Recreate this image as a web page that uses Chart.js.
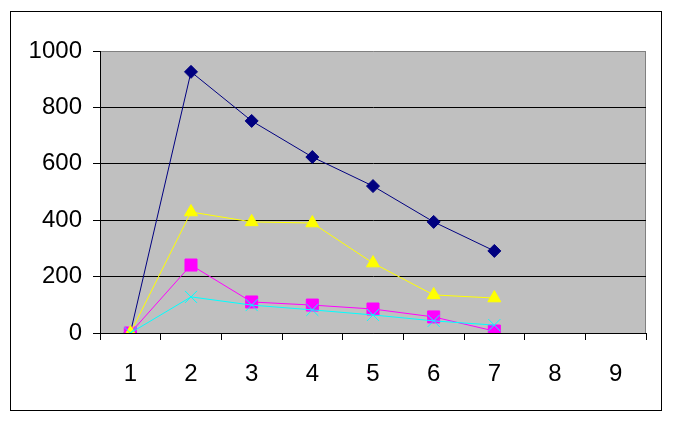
<!DOCTYPE html>
<html>
<head>
<meta charset="utf-8">
<script src="https://cdn.jsdelivr.net/npm/chart.js@4"></script>
<style>
  html, body { margin: 0; padding: 0; background: #fff; }
  #wrap { width: 673px; height: 423px; }
</style>
</head>
<body>
<div id="wrap"><canvas id="chart"></canvas></div>
<script>
var labels = ['1', '2', '3', '4', '5', '6', '7', '8', '9'];
var navyValues = [0, 926, 752, 624, 521, 394, 291];
var magentaValues = [0, 241, 110, 99, 85, 57, 7];
var yellowValues = [0, 429, 394, 390, 248, 135, 124];
var cyanValues = [0, 128, 99, 82, 64, 43, 28];

var frame = {
    id: 'frame',
    beforeDraw: function (chart) {
        var ctx = chart.ctx;
        var a = chart.chartArea;
        ctx.save();
        ctx.fillStyle = '#fff';
        ctx.fillRect(0, 0, chart.width, chart.height);
        ctx.strokeStyle = '#000';
        ctx.lineWidth = 1;
        ctx.strokeRect(10.5, 11.5, 651, 399);
        ctx.fillStyle = '#c0c0c0';
        ctx.fillRect(a.left, a.top, a.right - a.left, a.bottom - a.top);
        ctx.strokeStyle = '#808080';
        ctx.beginPath();
        ctx.moveTo(a.right - 0.5, a.top);
        ctx.lineTo(a.right - 0.5, a.bottom);
        ctx.stroke();
        ctx.restore();
    }
};

function series(data, color, style, radius, order) {
    return {
        data: data,
        borderColor: color,
        backgroundColor: color,
        borderWidth: 1,
        pointStyle: style,
        pointRadius: radius,
        pointBorderWidth: 1,
        pointBorderColor: color,
        pointBackgroundColor: color,
        tension: 0,
        order: order
    };
}

new Chart(document.getElementById('chart'), {
    type: 'line',
    data: {
        labels: labels,
        datasets: [
            series(navyValues, '#000080', 'rectRot', 6.5, 3),
            series(magentaValues, '#ff00ff', 'rect', 8.5, 2),
            series(yellowValues, '#ffff00', 'triangle', 7.5, 1),
            series(cyanValues, '#00ffff', 'crossRot', 8.5, 0)
        ]
    },
    options: {
        responsive: true,
        maintainAspectRatio: false,
        animation: false,
        layout: { padding: { left: 0, top: 51, right: 27, bottom: 0 } },
        plugins: { legend: { display: false }, tooltip: { enabled: false } },
        scales: {
            x: {
                offset: true,
                grid: {
                    offset: true,
                    drawOnChartArea: false,
                    color: '#000',
                    tickLength: 7
                },
                border: { color: '#000', width: 1 },
                ticks: {
                    color: '#000',
                    padding: 20,
                    maxRotation: 0,
                    font: { family: 'Liberation Sans', size: 24 }
                },
                afterFit: function (s) { s.height = 90; }
            },
            y: {
                min: 0,
                max: 1000,
                grid: {
                    color: function (c) { return c.tick && c.tick.value === 1000 ? '#808080' : '#000'; },
                    tickColor: '#000',
                    tickLength: 7
                },
                border: { color: '#000', width: 1 },
                ticks: {
                    stepSize: 200,
                    color: '#000',
                    padding: 11,
                    font: { family: 'Liberation Sans', size: 24 },
                    callback: function (v) { return String(v); }
                },
                afterFit: function (s) { s.width = 100; }
            }
        }
    },
    plugins: [frame]
});
</script>
</body>
</html>
